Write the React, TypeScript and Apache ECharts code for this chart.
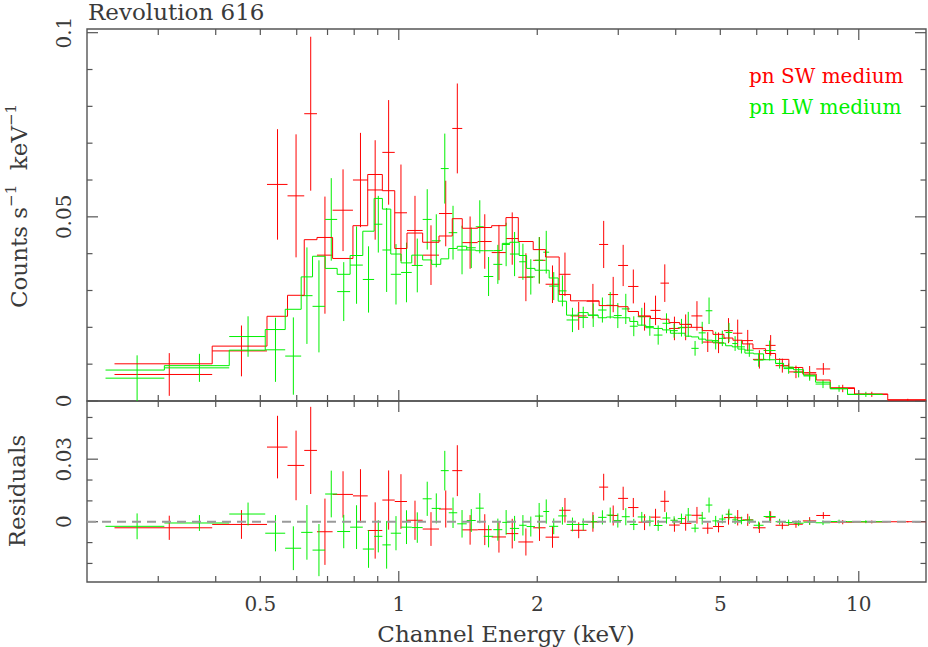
import React, { useEffect, useRef } from 'react';
import * as echarts from 'echarts';

// ---------------- data ----------------
// pn SW medium (red): bin edges in keV, count rate, 1-sigma error, folded model
const redEdges = [0.241, 0.393, 0.517, 0.573, 0.623, 0.664, 0.718, 0.795, 0.856, 0.921, 0.980, 1.042, 1.127, 1.223, 1.307, 1.374, 1.484, 1.592, 1.710, 1.819, 1.960, 2.085, 2.232, 2.363, 2.559, 2.726, 2.852, 2.998, 3.151, 3.319, 3.525, 3.706, 3.868, 4.081, 4.326, 4.571, 4.820, 5.092, 5.326, 5.583, 5.888, 6.272, 6.594, 7.047, 7.557, 8.082, 8.667, 9.788, 11.56, 14.0];
const redRate = [0.0072, 0.0136, 0.0588, 0.0557, 0.0780, 0.0396, 0.0518, 0.0600, 0.0573, 0.0675,
  0.0511, 0.0463, 0.0396, 0.0509, 0.0740, 0.0430, 0.0433, 0.0403, 0.0441, 0.0336,
  0.0382, 0.0317, 0.0344, 0.0231, 0.0271, 0.0425, 0.0289, 0.0368, 0.0311, 0.0229,
  0.0246, 0.0320, 0.0197, 0.0200, 0.0231, 0.0160, 0.0158, 0.0191, 0.0184, 0.0164,
  0.0113, 0.0151, 0.0096, 0.0079, 0.0077, 0.0087, 0.0034, 0.0018, 0.0003];
const redErr = [0.0058, 0.0069, 0.0150, 0.0167, 0.0209, 0.0159, 0.0111, 0.0128, 0.0135, 0.0142,
  0.0131, 0.0094, 0.0081, 0.0089, 0.0122, 0.0071, 0.0074, 0.0075, 0.0071, 0.0065,
  0.0063, 0.0051, 0.0059, 0.0038, 0.0047, 0.0064, 0.0048, 0.0056, 0.0046, 0.0038,
  0.0040, 0.0051, 0.0032, 0.0035, 0.0040, 0.0027, 0.0028, 0.0034, 0.0037, 0.0029,
  0.0025, 0.0028, 0.0019, 0.0017, 0.0018, 0.0016, 0.0010, 0.0007, 0.0003];
const redModel = [0.0101, 0.0149, 0.0230, 0.0287, 0.0438, 0.0444, 0.0387, 0.0476, 0.0615, 0.0571,
  0.0414, 0.0456, 0.0431, 0.0448, 0.0495, 0.0469, 0.0471, 0.0476, 0.0498, 0.0433,
  0.0411, 0.0391, 0.0289, 0.0272, 0.0272, 0.0259, 0.0259, 0.0256, 0.0243, 0.0231,
  0.0224, 0.0222, 0.0213, 0.0208, 0.0200, 0.0191, 0.0181, 0.0171, 0.0165, 0.0155,
  0.0142, 0.0129, 0.0113, 0.0091, 0.0073, 0.0057, 0.0036, 0.0019, 0.0003];

// pn LW medium (green)
const greenEdges = [0.2304, 0.3093, 0.4280, 0.5125, 0.5664, 0.6135, 0.6494, 0.6918, 0.7346, 0.7838, 0.8352, 0.8839, 0.9213, 0.9607, 1.0116, 1.0671, 1.127, 1.179, 1.234, 1.284, 1.340, 1.405, 1.470, 1.530, 1.605, 1.679, 1.744, 1.827, 1.896, 1.977, 2.061, 2.123, 2.221, 2.316, 2.455, 2.580, 2.713, 2.829, 2.934, 3.053, 3.178, 3.307, 3.443, 3.584, 3.743, 3.895, 4.041, 4.192, 4.326, 4.487, 4.647, 4.805, 4.966, 5.135, 5.309, 5.460, 5.655, 5.908, 6.209, 6.594, 6.864, 7.215, 7.585, 8.054, 8.667, 9.452, 11.27];
const greenRate = [0.0062, 0.0090, 0.0175, 0.0139, 0.0122, 0.0286, 0.0257, 0.0493, 0.0297, 0.0369,
  0.0330, 0.0480, 0.0410, 0.0344, 0.0349, 0.0368, 0.0493, 0.0435, 0.0631, 0.0457,
  0.0410, 0.0416, 0.0473, 0.0338, 0.0371, 0.0425, 0.0399, 0.0378, 0.0337, 0.0382,
  0.0404, 0.0312, 0.0299, 0.0220, 0.0227, 0.0233, 0.0247, 0.0260, 0.0232, 0.0250,
  0.0203, 0.0229, 0.0202, 0.0179, 0.0211, 0.0191, 0.0199, 0.0208, 0.0143, 0.0185,
  0.0245, 0.0164, 0.0170, 0.0186, 0.0156, 0.0147, 0.0138, 0.0111, 0.0137, 0.0102,
  0.0088, 0.0078, 0.0068, 0.0046, 0.0034, 0.0018];
const greenErr = [0.0062, 0.0038, 0.0055, 0.0087, 0.0105, 0.0131, 0.0125, 0.0112, 0.0080, 0.0105,
  0.0090, 0.0077, 0.0114, 0.0082, 0.0081, 0.0073, 0.0082, 0.0072, 0.0095, 0.0073,
  0.0066, 0.0055, 0.0072, 0.0053, 0.0053, 0.0059, 0.0060, 0.0049, 0.0048, 0.0063,
  0.0058, 0.0038, 0.0042, 0.0033, 0.0029, 0.0032, 0.0034, 0.0036, 0.0034, 0.0041,
  0.0027, 0.0024, 0.0025, 0.0026, 0.0027, 0.0019, 0.0024, 0.0034, 0.0020, 0.0030,
  0.0036, 0.0024, 0.0021, 0.0026, 0.0020, 0.0018, 0.0018, 0.0018, 0.0027, 0.0014,
  0.0014, 0.0014, 0.0013, 0.0011, 0.0009, 0.0007];
const greenModel = [0.0084, 0.0096, 0.0138, 0.0194, 0.0249, 0.0337, 0.0393, 0.0360, 0.0344, 0.0395,
  0.0461, 0.0550, 0.0521, 0.0399, 0.0375, 0.0396, 0.0383, 0.0371, 0.0386, 0.0414,
  0.0420, 0.0410, 0.0408, 0.0408, 0.0409, 0.0428, 0.0431, 0.0395, 0.0360, 0.0355,
  0.0355, 0.0334, 0.0271, 0.0233, 0.0240, 0.0233, 0.0226, 0.0228, 0.0226, 0.0226,
  0.0216, 0.0206, 0.0199, 0.0197, 0.0193, 0.0184, 0.0184, 0.0176, 0.0174, 0.0168,
  0.0165, 0.0160, 0.0157, 0.0150, 0.0147, 0.0141, 0.0130, 0.0128, 0.0112, 0.0102,
  0.0092, 0.0085, 0.0070, 0.0051, 0.0033, 0.0018];

// axis ranges and ticks
const xRange = [0.21, 14];
const topRange = [0, 0.101];
const resRange = [-0.0289, 0.0579];
const xMajorTicks = [1, 10];
const xMinorTicks = [0.3, 0.4, 0.5, 0.6, 0.7, 0.8, 0.9, 2, 3, 4, 5, 6, 7, 8, 9];
const xLabelValues = [0.5, 1, 2, 5, 10];
const xTickLabels = ['0.5', '1', '2', '5', '10'];
const topMajorTicks = [0, 0.05, 0.1];
const topMinorTicks = [0.01, 0.02, 0.03, 0.04, 0.06, 0.07, 0.08, 0.09];
const topTickLabels = ['0', '0.05', '0.1'];
const resMajorTicks = [0, 0.03];
const resMinorTicks = [-0.02, -0.01, 0.01, 0.02, 0.04, 0.05];
const resTickLabels = ['0', '0.03'];

const RED = '#ff0000';
const GREEN = '#00f000';
const AXIS = '#555555';
const TEXT = '#3a3a3a';
const FONT = '"DejaVu Serif", "Liberation Serif", serif';

function crossItems(edges: number[], vals: number[], errs: number[]) {
  return vals.map((v, i) => [edges[i], edges[i + 1], (edges[i] + edges[i + 1]) / 2, v, errs[i]]);
}
function residualItems(edges: number[], vals: number[], errs: number[], model: number[]) {
  return vals.map((v, i) => [edges[i], edges[i + 1], (edges[i] + edges[i + 1]) / 2, v - model[i], errs[i]]);
}
function stepPoints(edges: number[], model: number[]) {
  const pts = model.map((m, i) => [edges[i], m]);
  pts.push([edges[edges.length - 1], model[model.length - 1]]);
  return pts;
}

function crossRenderer(color: string) {
  return (params: any, api: any) => {
    const lo = api.value(0), hi = api.value(1), c = api.value(2), y = api.value(3), e = api.value(4);
    const a = api.coord([lo, y]);
    const b = api.coord([hi, y]);
    const t = api.coord([c, y + e]);
    const d = api.coord([c, y - e]);
    const st = { stroke: color, lineWidth: 1 };
    return {
      type: 'group',
      children: [
        { type: 'line', shape: { x1: a[0], y1: a[1], x2: b[0], y2: b[1] }, style: st },
        { type: 'line', shape: { x1: t[0], y1: t[1], x2: d[0], y2: d[1] }, style: st },
      ],
    };
  };
}

function textStyle(text: string, size: number, fill: string, align: string) {
  return { text, fill, font: size + 'px ' + FONT, align, verticalAlign: 'middle', textAlign: align, textVerticalAlign: 'middle' };
}

function xTickRenderer(ymin: number, ymax: number, withLabels: boolean) {
  return (params: any, api: any) => {
    const v = api.value(0);
    const kind = api.value(1); // 1 major, 0 minor, 2 label only
    const b = api.coord([v, ymin]);
    const t = api.coord([v, ymax]);
    const children: any[] = [];
    if (kind !== 2) {
      const len = kind === 1 ? 11 : 6;
      const st = { stroke: AXIS, lineWidth: 1.2 };
      children.push({ type: 'line', shape: { x1: b[0], y1: b[1], x2: b[0], y2: b[1] - len }, style: st });
      children.push({ type: 'line', shape: { x1: t[0], y1: t[1], x2: t[0], y2: t[1] + len }, style: st });
    } else if (withLabels) {
      const idx = api.value(2);
      children.push({ type: 'text', x: b[0], y: b[1] + 22, style: textStyle(xTickLabels[idx], 20, TEXT, 'center') });
    }
    return { type: 'group', children };
  };
}

function yTickRenderer(labels: string[]) {
  return (params: any, api: any) => {
    const v = api.value(1);
    const kind = api.value(2);
    const l = api.coord([xRange[0], v]);
    const r = api.coord([xRange[1], v]);
    const children: any[] = [];
    if (kind !== 2) {
      const len = kind === 1 ? 11 : 5.5;
      const st = { stroke: AXIS, lineWidth: 1.2 };
      children.push({ type: 'line', shape: { x1: l[0], y1: l[1], x2: l[0] + len, y2: l[1] }, style: st });
      children.push({ type: 'line', shape: { x1: r[0], y1: r[1], x2: r[0] - len, y2: r[1] }, style: st });
    } else {
      const idx = api.value(3);
      children.push({ type: 'text', x: l[0] - 23, y: l[1], rotation: Math.PI / 2, style: textStyle(labels[idx], 20, TEXT, 'center') });
    }
    return { type: 'group', children };
  };
}

function buildOption() {
  const xTickData = [
    ...xMajorTicks.map((v) => [v, 1, 0]),
    ...xMinorTicks.map((v) => [v, 0, 0]),
  ];
  const xLabelData = xLabelValues.map((v, i) => [v, 2, i]);
  const topYData = [
    ...topMajorTicks.map((v) => [xRange[0], v, 1, 0]),
    ...topMinorTicks.map((v) => [xRange[0], v, 0, 0]),
    ...topMajorTicks.map((v, i) => [xRange[0], v, 2, i]),
  ];
  const resYData = [
    ...resMajorTicks.map((v) => [xRange[0], v, 1, 0]),
    ...resMinorTicks.map((v) => [xRange[0], v, 0, 0]),
    ...resMajorTicks.map((v, i) => [xRange[0], v, 2, i]),
  ];

  const yTitle = '{a|Counts s}{b|\u22121}{a|  keV}{b|\u22121}';

  return {
    animation: false,
    backgroundColor: '#ffffff',
    grid: [
      { left: 87, top: 29, width: 839, height: 372, show: true, borderColor: AXIS, borderWidth: 1.4, backgroundColor: 'transparent' },
      { left: 87, top: 401, width: 839, height: 181, show: true, borderColor: AXIS, borderWidth: 1.4, backgroundColor: 'transparent' },
    ],
    xAxis: [
      { type: 'log', logBase: 10, gridIndex: 0, min: xRange[0], max: xRange[1], show: false },
      { type: 'log', logBase: 10, gridIndex: 1, min: xRange[0], max: xRange[1], show: false },
    ],
    yAxis: [
      { type: 'value', gridIndex: 0, min: topRange[0], max: topRange[1], show: false },
      { type: 'value', gridIndex: 1, min: resRange[0], max: resRange[1], show: false },
    ],
    graphic: [
      { type: 'text', x: 88, y: 12, style: textStyle('Revolution 616', 23, TEXT, 'left') },
      { type: 'text', x: 749, y: 76, style: textStyle('pn SW medium', 20, RED, 'left') },
      { type: 'text', x: 749, y: 107, style: textStyle('pn LW medium', 20, GREEN, 'left') },
      { type: 'text', x: 506, y: 634, style: textStyle('Channel Energy (keV)', 23, TEXT, 'center') },
      {
        type: 'text', x: 17, y: 206, rotation: Math.PI / 2,
        style: {
          ...textStyle(yTitle, 23, TEXT, 'center'),
          rich: {
            a: { fontFamily: FONT, fontSize: 23, fill: TEXT, lineHeight: 27, verticalAlign: 'bottom' },
            b: { fontFamily: FONT, fontSize: 15, fill: TEXT, lineHeight: 27, verticalAlign: 'top' },
          },
        },
      },
      { type: 'text', x: 17, y: 491, rotation: Math.PI / 2, style: textStyle('Residuals', 23, TEXT, 'center') },
    ],
    series: [
      // top panel
      { type: 'custom', name: 'pn SW medium', xAxisIndex: 0, yAxisIndex: 0, clip: true, silent: true, encode: { x: [0, 1, 2], y: [3] }, data: crossItems(redEdges, redRate, redErr), renderItem: crossRenderer(RED) },
      { type: 'line', name: 'SW model', xAxisIndex: 0, yAxisIndex: 0, step: 'end', symbol: 'none', showSymbol: false, clip: true, silent: true, lineStyle: { color: RED, width: 1 }, data: stepPoints(redEdges, redModel) },
      { type: 'custom', name: 'pn LW medium', xAxisIndex: 0, yAxisIndex: 0, clip: true, silent: true, encode: { x: [0, 1, 2], y: [3] }, data: crossItems(greenEdges, greenRate, greenErr), renderItem: crossRenderer(GREEN) },
      { type: 'line', name: 'LW model', xAxisIndex: 0, yAxisIndex: 0, step: 'end', symbol: 'none', showSymbol: false, clip: true, silent: true, lineStyle: { color: GREEN, width: 1 }, data: stepPoints(greenEdges, greenModel) },
      // residual panel
      { type: 'custom', name: 'SW residuals', xAxisIndex: 1, yAxisIndex: 1, clip: true, silent: true, encode: { x: [0, 1, 2], y: [3] }, data: residualItems(redEdges, redRate, redErr, redModel), renderItem: crossRenderer(RED) },
      { type: 'custom', name: 'LW residuals', xAxisIndex: 1, yAxisIndex: 1, clip: true, silent: true, encode: { x: [0, 1, 2], y: [3] }, data: residualItems(greenEdges, greenRate, greenErr, greenModel), renderItem: crossRenderer(GREEN) },
      { type: 'line', name: 'zero', xAxisIndex: 1, yAxisIndex: 1, symbol: 'none', silent: true, lineStyle: { color: '#9a9a9a', width: 2, type: [9, 6] }, data: [[xRange[0], 0], [xRange[1], 0]] },
      // ticks and tick labels
      { type: 'custom', xAxisIndex: 0, yAxisIndex: 0, silent: true, encode: { x: 0 }, data: xTickData, renderItem: xTickRenderer(topRange[0], topRange[1], false) },
      { type: 'custom', xAxisIndex: 1, yAxisIndex: 1, silent: true, encode: { x: 0 }, data: xTickData, renderItem: xTickRenderer(resRange[0], resRange[1], false) },
      { type: 'custom', xAxisIndex: 1, yAxisIndex: 1, silent: true, encode: { x: 0 }, data: xLabelData, renderItem: xTickRenderer(resRange[0], resRange[1], true) },
      { type: 'custom', xAxisIndex: 0, yAxisIndex: 0, silent: true, encode: { x: 0, y: 1 }, data: topYData, renderItem: yTickRenderer(topTickLabels) },
      { type: 'custom', xAxisIndex: 1, yAxisIndex: 1, silent: true, encode: { x: 0, y: 1 }, data: resYData, renderItem: yTickRenderer(resTickLabels) },
    ],
  };
}

export default function App() {
  const ref = useRef<HTMLDivElement>(null);
  useEffect(() => {
    if (!ref.current) return;
    const chart = echarts.init(ref.current, null, { renderer: 'svg' });
    chart.setOption(buildOption() as any);
    return () => chart.dispose();
  }, []);
  return <div ref={ref} style={{ position: 'fixed', left: 0, top: 0, width: 928, height: 647, background: '#fff' }} />;
}
